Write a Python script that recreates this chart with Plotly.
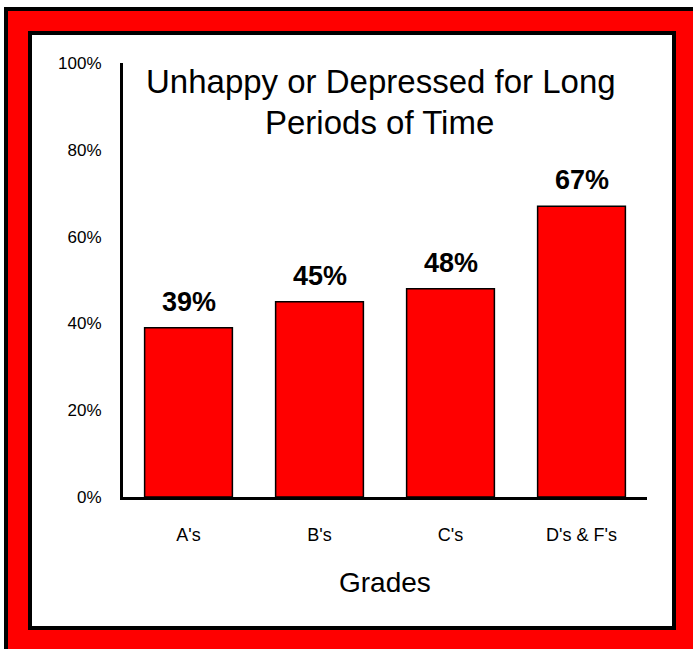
import plotly.graph_objects as go

# Share of students unhappy or depressed for long periods, by grades earned
grades = ["A's", "B's", "C's", "D's & F's"]
shares = [0.39, 0.45, 0.48, 0.67]
y_ticks = [0, 0.2, 0.4, 0.6, 0.8, 1.0]
title_lines = ["Unhappy or Depressed for Long", "Periods of Time"]

W, H = 693, 649
L, R, T, B = 123, 46, 63, 152
pw, ph = W - L - R, H - T - B

FONT = "Liberation Sans, Arial, sans-serif"


def px_x(x):
    return (x - L) / pw


def px_y(y):
    return (H - B - y) / ph


def frame(x0, y0, x1, y1, color):
    return dict(type="rect", xref="paper", yref="paper", layer="below",
                x0=px_x(x0), x1=px_x(x1), y0=px_y(y1), y1=px_y(y0),
                fillcolor=color, line=dict(width=0))


fig = go.Figure(go.Bar(
    x=grades, y=shares,
    marker=dict(color="#FF0000", line=dict(color="black", width=1.5)),
))

annotations = [
    dict(x=g, y=v, xref="x", yref="y", text=f"<b>{round(v * 100)}%</b>",
         showarrow=False, yanchor="bottom", yshift=9,
         font=dict(family=FONT, size=27, color="black"))
    for g, v in zip(grades, shares)
]
# Two-line chart title, placed line by line
for line, xmid, ymid in zip(title_lines, [381, 379], [81, 122]):
    annotations.append(dict(
        x=px_x(xmid), y=px_y(ymid), xref="paper", yref="paper", text=line,
        showarrow=False, xanchor="center", yanchor="middle",
        font=dict(family=FONT, size=33, color="black"),
    ))
annotations.append(dict(
    x=px_x(385), y=px_y(582), xref="paper", yref="paper", text="Grades",
    showarrow=False, xanchor="center", yanchor="middle",
    font=dict(family=FONT, size=28, color="black"),
))

fig.update_layout(
    width=W, height=H,
    margin=dict(l=L, r=R, t=T, b=B),
    paper_bgcolor="white", plot_bgcolor="rgba(0,0,0,0)",
    bargap=0.33, showlegend=False,
    font=dict(family=FONT, color="black"),
    shapes=[
        frame(4, 7, W + 20, H + 20, "black"),
        frame(8, 11, W + 20, H + 20, "#FF0000"),
        frame(28, 31, 676, 630, "black"),
        frame(32, 35, 672, 626, "white"),
    ],
    annotations=annotations,
)
fig.update_xaxes(showline=True, linecolor="black", linewidth=3,
                 ticks="", ticklabelstandoff=19, showgrid=False,
                 tickfont=dict(family=FONT, size=18, color="black"))
fig.update_yaxes(range=[0, 1], tickvals=y_ticks, tickformat=".0%",
                 showline=True, linecolor="black", linewidth=3,
                 ticks="", ticklabelstandoff=15, showgrid=False, zeroline=False,
                 tickfont=dict(family=FONT, size=17, color="black"))

fig.write_html("out.html")
